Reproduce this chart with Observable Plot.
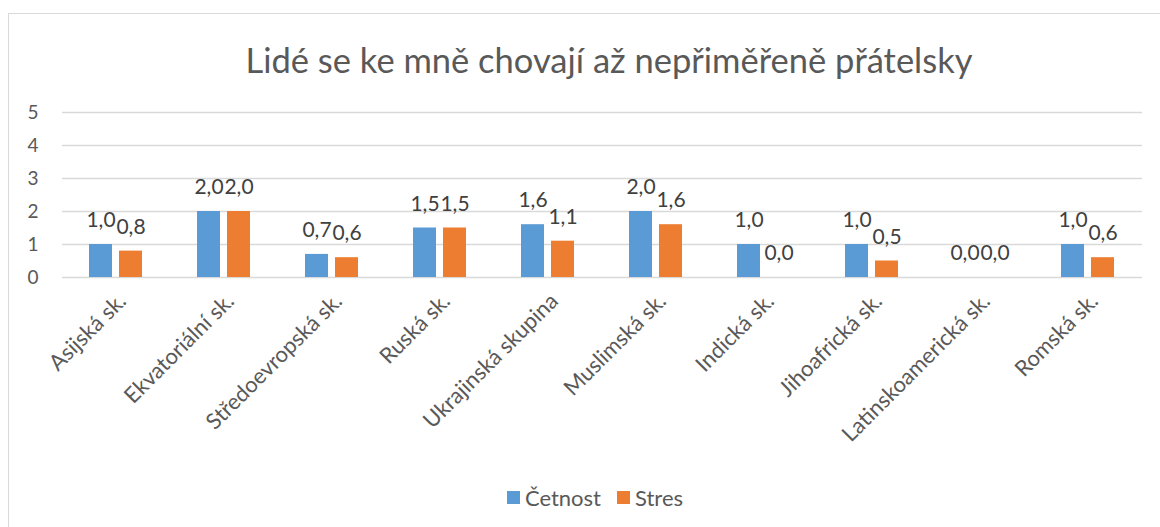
<!DOCTYPE html>
<html>
<head>
<meta charset="utf-8">
<script src="https://cdn.jsdelivr.net/npm/d3@7"></script>
<script src="https://cdn.jsdelivr.net/npm/@observablehq/plot@0.6"></script>
<style>
  body { margin: 0; background: #fff; font-family: Lato, "Open Sans", sans-serif; }
  #frame { position: absolute; left: 8px; top: 13px; width: 1170px; height: 540px; border: 1px solid #d9d9d9; box-sizing: border-box; }
  #wrap { position: absolute; left: 0; top: 0; width: 1160px; }
  #title { height: 95px; box-sizing: border-box; padding-top: 40px; line-height: 40px; font-size: 34.5px; text-align: center; padding-left: 58px; color: #595959; white-space: nowrap; }
  #chart svg { display: block; overflow: visible; }
  #legend { height: 44px; display: flex; justify-content: center; align-items: center; font-size: 22px; color: #595959; padding-left: 30px; box-sizing: border-box; }
  .item { display: flex; align-items: center; margin: 0 8px; }
  .sw { width: 13px; height: 13px; margin-right: 5px; }
</style>
</head>
<body>
<div id="frame"></div>
<div id="wrap">
  <div id="title">Lidé se ke mně chovají až nepřiměřeně přátelsky</div>
  <div id="chart"></div>
  <div id="legend"></div>
</div>
<script>
const categories = ["Asijská sk.", "Ekvatoriální sk.", "Středoevropská sk.", "Ruská sk.", "Ukrajinská skupina", "Muslimská sk.", "Indická sk.", "Jihoafrická sk.", "Latinskoamerická sk.", "Romská sk."];
const series = ["Četnost", "Stres"];
const cetnost = [1.0, 2.0, 0.7, 1.5, 1.6, 2.0, 1.0, 1.0, 0.0, 1.0];
const stres = [0.8, 2.0, 0.6, 1.5, 1.1, 1.6, 0.0, 0.5, 0.0, 0.6];
const yTicks = [0, 1, 2, 3, 4, 5];
const colors = ["#5B9BD5", "#ED7D31"];

const data = categories.flatMap((c, i) => [
  {cat: c, series: series[0], value: cetnost[i]},
  {cat: c, series: series[1], value: stres[i]}
]);
const fmt = v => v.toFixed(1).replace(".", ",");

const chart = Plot.plot({
  width: 1160,
  height: 380,
  marginLeft: 60,
  marginRight: 17,
  marginTop: 17,
  marginBottom: 198,
  style: {fontFamily: "Lato, 'Open Sans', sans-serif", fontSize: "20px", color: "#595959", background: "transparent", overflow: "visible"},
  fx: {domain: categories, padding: 0, label: null},
  x: {domain: series, paddingInner: 0.226, paddingOuter: 0.86, axis: null},
  y: {domain: [0, 5], label: null},
  color: {domain: series, range: colors},
  marks: [
    Plot.ruleY(yTicks, {stroke: "#d9d9d9", strokeWidth: 1.5}),
    Plot.axisY({ticks: yTicks, tickSize: 0, tickPadding: 24, fontSize: 19, tickFormat: d => String(d), label: null, fill: "#595959"}),
    Plot.axisFx({anchor: "bottom", tickRotate: -45, tickSize: 0, tickPadding: 20, dx: 6, fontSize: 22, label: null, fill: "#595959"}),
    Plot.barY(data, {fx: "cat", x: "series", y: "value", fill: "series"}),
    Plot.text(data, {fx: "cat", x: "series", y: "value", text: d => fmt(d.value), dy: -24, fontSize: 21, fill: "#404040"})
  ]
});
document.getElementById("chart").appendChild(chart);

const legend = document.getElementById("legend");
series.forEach((s, i) => {
  const item = document.createElement("div");
  item.className = "item";
  const sw = document.createElement("div");
  sw.className = "sw";
  sw.style.background = colors[i];
  const lab = document.createElement("span");
  lab.textContent = s;
  item.appendChild(sw);
  item.appendChild(lab);
  legend.appendChild(item);
});
</script>
</body>
</html>
